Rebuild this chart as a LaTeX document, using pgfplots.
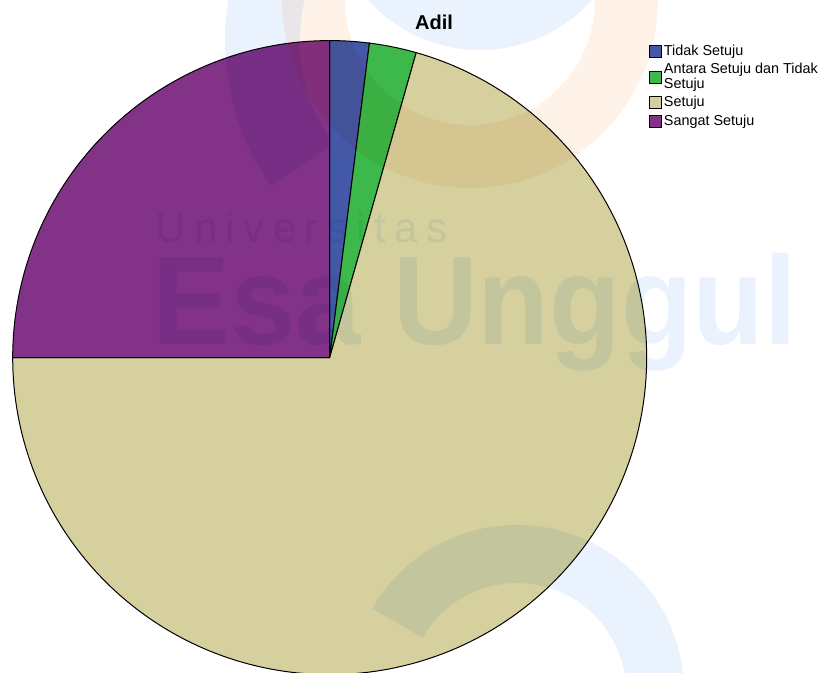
\documentclass[border=0pt]{standalone}
\usepackage{pgfplots}
\pgfplotsset{compat=1.18}
\usepackage{fontspec}
\setmainfont{Liberation Sans}
\definecolor{cA}{HTML}{4458A8}
\definecolor{cB}{HTML}{3CB94A}
\definecolor{cC}{HTML}{D5D09E}
\definecolor{cD}{HTML}{823287}
\definecolor{wm}{HTML}{EAF2FE}
\definecolor{wmo}{HTML}{FFF2E9}
% percentages of each category
\newcommand\pA{2.0}
\newcommand\pB{2.4}
\newcommand\pC{70.6}
\newcommand\pD{25.0}
\begin{document}
\begin{tikzpicture}[x=1pt,y=1pt]
\useasboundingbox (0,0) rectangle (414,336.5);
\begin{axis}[
  at={(4,-0.5)}, anchor=south west,
  x=158.5pt, y=158.5pt,
  xmin=-1, xmax=1.6, ymin=-1, ymax=1,
  hide axis, clip=false,
  legend cell align=left,
  legend image code/.code={\draw[#1, line width=0.4pt] (0pt,-3pt) rectangle (6pt,3pt);},
  legend style={at={(0.7717,0.997)}, anchor=north west, draw=none, fill=none,
    inner sep=0pt, row sep=0.5pt, font=\fontsize{7.2}{7.2}\selectfont,
    nodes={inner sep=1pt, align=left}},
]
\addplot[draw=black, line width=0.5pt, fill=cA, domain=0:{3.6*\pA}, samples=20] ({sin(x)},{cos(x)}) -- (axis cs:0,0) -- cycle;
\addlegendentry{Tidak Setuju}
\addplot[draw=black, line width=0.5pt, fill=cB, domain={3.6*\pA}:{3.6*(\pA+\pB)}, samples=20] ({sin(x)},{cos(x)}) -- (axis cs:0,0) -- cycle;
\addlegendentry{Antara Setuju dan Tidak\\Setuju}
\addplot[draw=black, line width=0.5pt, fill=cC, domain={3.6*(\pA+\pB)}:{3.6*(\pA+\pB+\pC)}, samples=200] ({sin(x)},{cos(x)}) -- (axis cs:0,0) -- cycle;
\addlegendentry{Setuju}
\addplot[draw=black, line width=0.5pt, fill=cD, domain={3.6*(\pA+\pB+\pC)}:360, samples=80] ({sin(x)},{cos(x)}) -- (axis cs:0,0) -- cycle;
\addlegendentry{Sangat Setuju}
\end{axis}
\begin{scope}[blend mode=multiply]
\clip (0,0) rectangle (414,336.5);
\fill[wm] (240,386.5) circle[radius=75];
\fill[wmo, shift={(235,336.5)}] (180:94) arc[start angle=180, end angle=360, radius=94] -- (360:62.5) arc[start angle=360, end angle=180, radius=62.5] -- cycle;
\fill[wm, shift={(240,316.5)}] (150:127.5) arc[start angle=150, end angle=215, radius=127.5] -- (215:90) arc[start angle=215, end angle=150, radius=90] -- cycle;
\fill[wm, shift={(258.5,-9.5)}] (150:83.5) arc[start angle=150, end angle=-20, radius=83.5] -- (-20:54.5) arc[start angle=-20, end angle=150, radius=54.5] -- cycle;
\node[anchor=base west, inner sep=0pt, text=wm, font=\fontsize{21}{21}\selectfont\addfontfeatures{LetterSpace=20}] at (77.5,215) {Universitas};
\node[anchor=base west, inner sep=0pt, text=wm, xscale=0.93, font=\fontsize{63}{63}\selectfont\bfseries] at (76,164) {Esa Unggul};
\end{scope}
\node[font=\fontsize{10}{12}\selectfont\bfseries] at (217,325.5) {Adil};
\end{tikzpicture}
\end{document}
